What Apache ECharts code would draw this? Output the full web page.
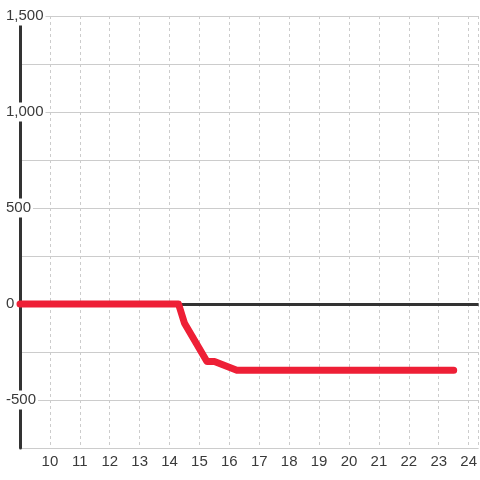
<!DOCTYPE html>
<html>
<head>
<meta charset="utf-8">
<script src="https://cdn.jsdelivr.net/npm/echarts@6/dist/echarts.min.js"></script>
<style>html,body{margin:0;padding:0;background:#fff}#c{width:480px;height:480px}</style>
</head>
<body>
<div id="c"></div>
<script>
// Data
const hours = [9, 14.3, 14.5, 15.25, 15.5, 16.25, 23.5];
const values = [0, 0, -100, -300, -300, -345, -345];
const yLabelValues = [-500, 0, 500, 1000, 1500];
const xLabelValues = [10, 11, 12, 13, 14, 15, 16, 17, 18, 19, 20, 21, 22, 23, 24];

const seriesData = hours.map((h, i) => [h, values[i]]);
const font = 'Liberation Sans, Arial, sans-serif';

const chart = echarts.init(document.getElementById('c'));
chart.setOption({
  backgroundColor: '#ffffff',
  animation: false,
  grid: { left: 20, right: 0, top: 16, bottom: 32, containLabel: false },
  xAxis: {
    type: 'value', min: 9, max: 24.333, interval: 1,
    axisLine: { show: false, onZero: false },
    axisTick: { show: false },
    axisLabel: {
      color: '#3a3a3a', fontSize: 15, fontFamily: font, margin: 6,
      showMinLabel: false, showMaxLabel: false,
      formatter: v => xLabelValues.includes(v) ? String(v) : ''
    },
    splitLine: { show: true, lineStyle: { color: '#cccccc', width: 1, type: [3, 3] } }
  },
  yAxis: {
    type: 'value', min: -750, max: 1500, interval: 250,
    axisLine: { show: true, onZero: false, lineStyle: { color: '#333', width: 3 } },
    axisTick: { show: false },
    axisLabel: {
      color: '#3a3a3a', fontSize: 15, fontFamily: font, margin: 16, align: 'left',
      formatter: v => yLabelValues.includes(v) ? '{a|' + v.toLocaleString('en-US') + '}' : '',
      rich: { a: { backgroundColor: '#ffffff', padding: [2, 2, 2, 2], color: '#3a3a3a', fontSize: 15, fontFamily: font } }
    },
    splitLine: { show: true, lineStyle: { color: '#cccccc', width: 1 } }
  },
  series: [
    {
      type: 'line', data: [], z: 1, silent: true,
      markLine: {
        silent: true, symbol: ['none', 'none'], label: { show: false },
        lineStyle: { color: '#333', width: 3, type: 'solid' },
        data: [{ yAxis: 0 }]
      }
    },
    {
      type: 'line', data: seriesData, z: 10, showSymbol: false, symbol: 'none',
      lineStyle: { color: '#ee1f36', width: 7, cap: 'round', join: 'round' }
    }
  ]
});
</script>
</body>
</html>
